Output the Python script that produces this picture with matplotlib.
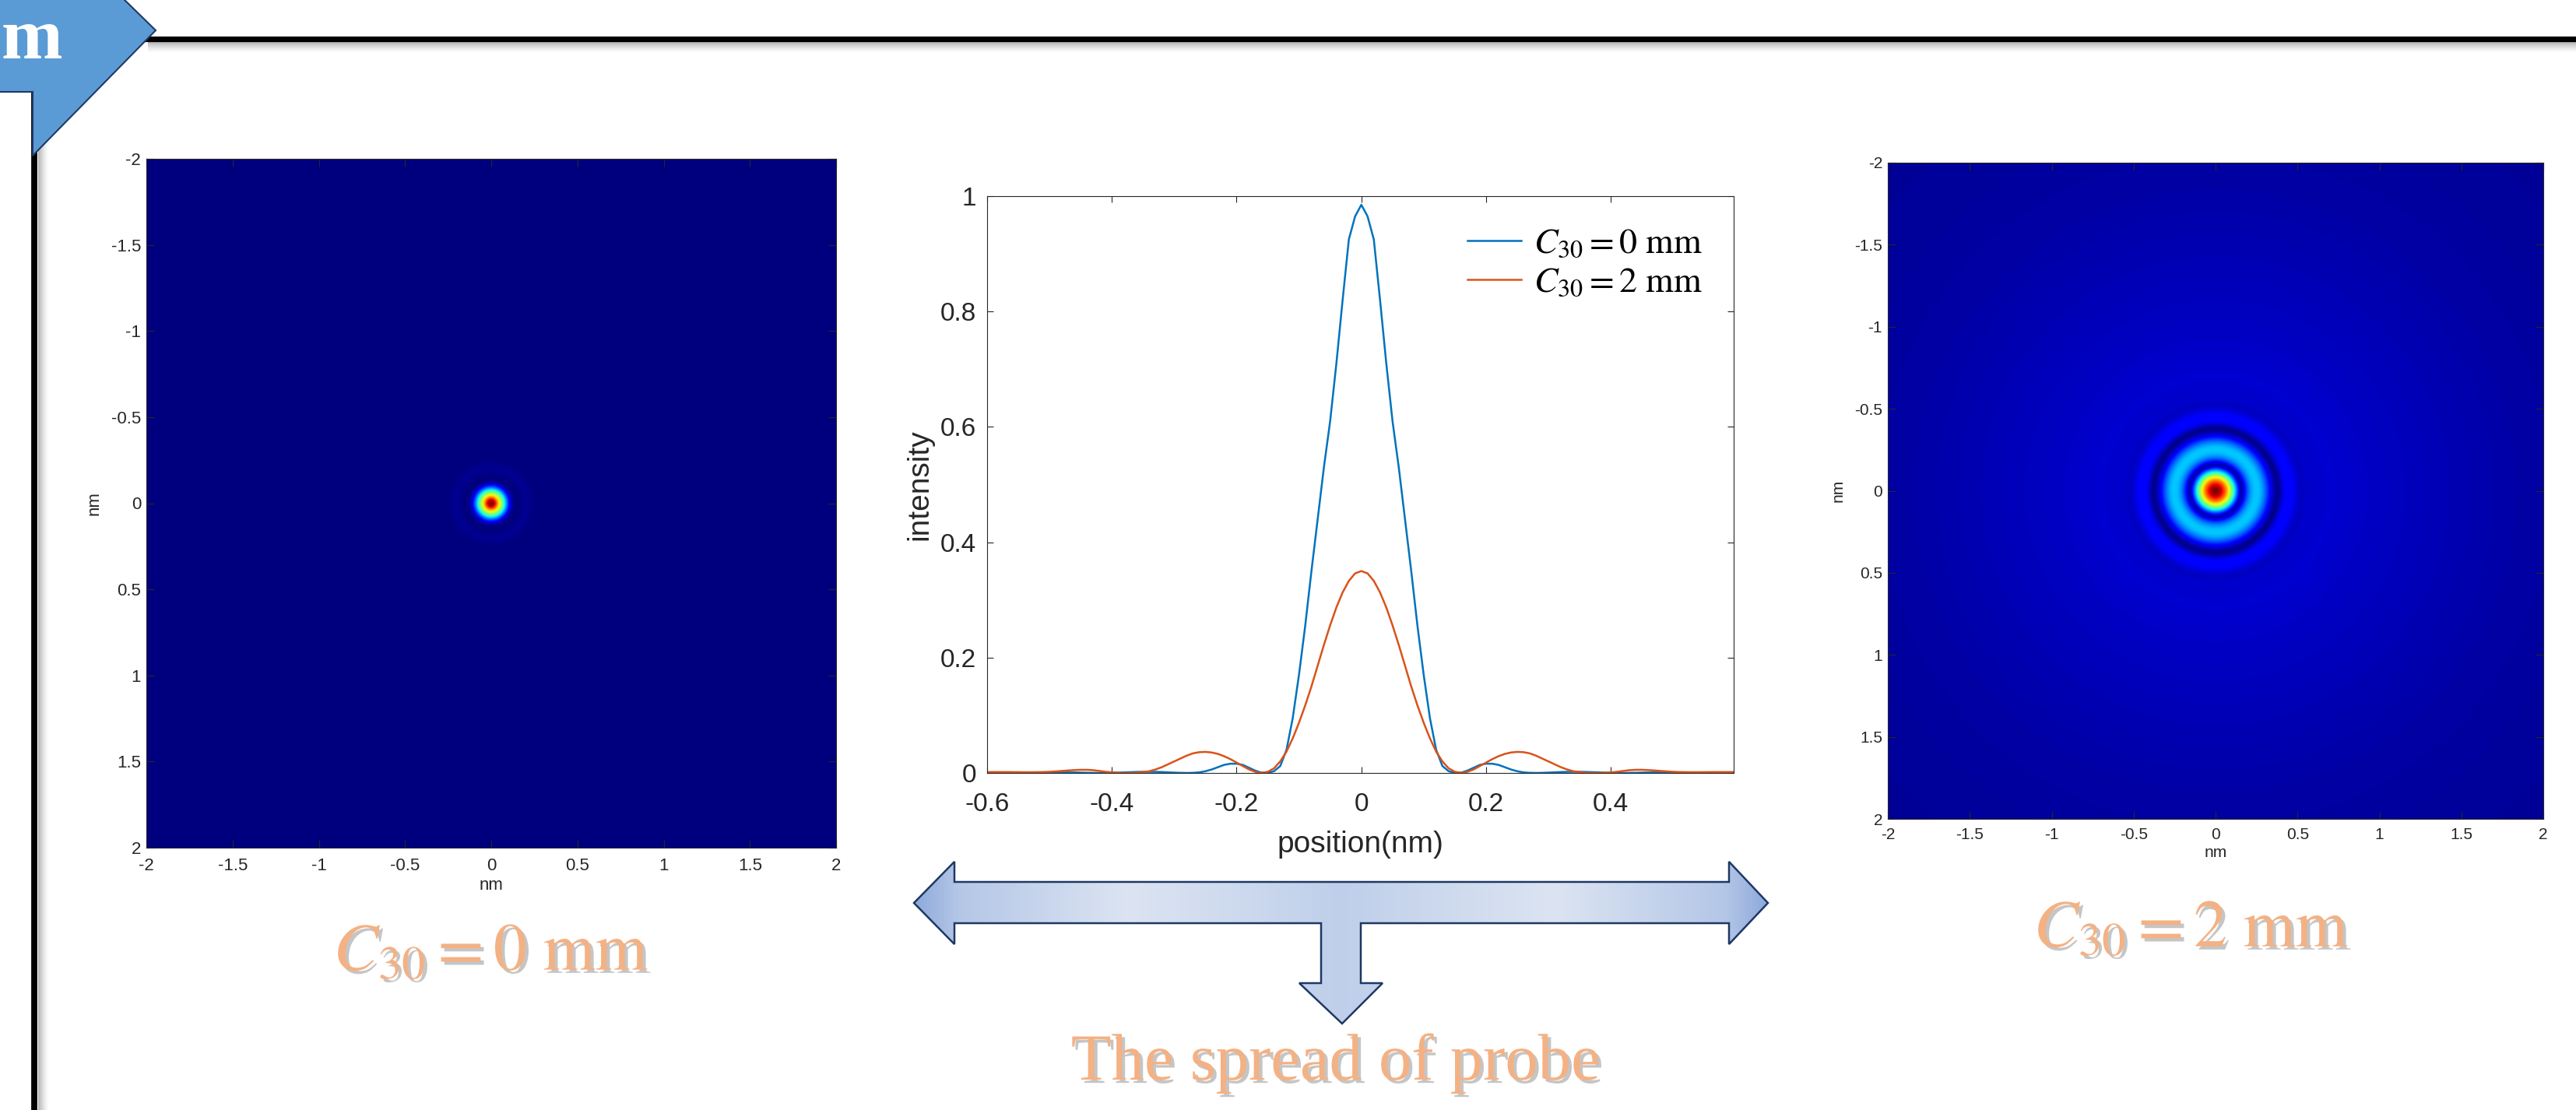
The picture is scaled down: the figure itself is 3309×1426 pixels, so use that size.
import numpy as np
import matplotlib
matplotlib.use('Agg')
import matplotlib.pyplot as plt
from matplotlib.patches import Polygon
from matplotlib.colors import LinearSegmentedColormap
from matplotlib.lines import Line2D
import matplotlib.patheffects as pe

plt.rcParams['font.family'] = ['Liberation Sans', 'DejaVu Sans']
plt.rcParams['mathtext.fontset'] = 'stix'

# ---------------- data ----------------
radius_nm = np.round(np.arange(0, 0.601, 0.01), 2)   # radial positions of the line profile
intensity_c30_0mm = [0.985, 0.965, 0.925, 0.82, 0.71, 0.61, 0.53, 0.44, 0.35, 0.255,
                     0.17, 0.095, 0.04, 0.012, 0.003, 0.0003, 0.0005, 0.004, 0.009, 0.014,
                     0.016, 0.016, 0.014, 0.010, 0.006, 0.003, 0.001, 0.0002, 0.0, 0.0002,
                     0.0006, 0.0011, 0.0016, 0.0019, 0.002, 0.002, 0.0018, 0.0014, 0.001, 0.0006,
                     0.0003, 0.0001, 0.0, 0.0001, 0.0003, 0.0006, 0.0008, 0.0009, 0.0008, 0.0006,
                     0.0003, 0.0001, 0.0, 0.0001, 0.0002, 0.0004, 0.0005, 0.0005, 0.0004, 0.0002, 0.0001]
intensity_c30_2mm = [0.350, 0.346, 0.333, 0.313, 0.287, 0.256, 0.222, 0.186, 0.150, 0.117,
                     0.087, 0.060, 0.037, 0.020, 0.008, 0.002, 0.0002, 0.002, 0.006, 0.012,
                     0.018, 0.024, 0.029, 0.033, 0.0355, 0.0365, 0.036, 0.034, 0.030, 0.025,
                     0.020, 0.015, 0.010, 0.006, 0.003, 0.0015, 0.0005, 0.0001, 0.0, 0.0003,
                     0.001, 0.002, 0.0035, 0.0048, 0.0055, 0.0055, 0.005, 0.0043, 0.0035, 0.0027,
                     0.002, 0.0016, 0.0014, 0.0013, 0.0013, 0.0014, 0.0015, 0.0016, 0.0016, 0.0016, 0.0015]
# faint halo of the probe maps beyond the plotted range
tail_radius_nm = [0.7, 0.9, 1.2, 1.5, 1.8, 2.2, 2.9]
tail_c30_0mm = [0.0, 0.0, 0.0, 0.0, 0.0, 0.0, 0.0]
tail_c30_2mm = [0.0018, 0.0014, 0.0010, 0.0007, 0.00045, 0.00028, 0.00014]

series_labels = [r'$C_{30} = 0\ \mathrm{mm}$', r'$C_{30} = 2\ \mathrm{mm}$']
position_ticks = [-0.6, -0.4, -0.2, 0, 0.2, 0.4]
position_tick_labels = ['-0.6', '-0.4', '-0.2', '0', '0.2', '0.4']
intensity_ticks = [0, 0.2, 0.4, 0.6, 0.8, 1]
intensity_tick_labels = ['0', '0.2', '0.4', '0.6', '0.8', '1']
map_ticks = [-2, -1.5, -1, -0.5, 0, 0.5, 1, 1.5, 2]
map_tick_labels = ['-2', '-1.5', '-1', '-0.5', '0', '0.5', '1', '1.5', '2']
caption_text = 'The spread of probe'
header_text = 'm'

# ---------------- layout ----------------
W, H = 3309, 1426
fig = plt.figure(figsize=(W / 100, H / 100), dpi=100)


def frac(x0, y0, x1, y1):
    return [x0 / W, 1 - y1 / H, (x1 - x0) / W, (y1 - y0) / H]


TXT = '#262626'
PEACH = '#F4B183'
line_colors = ['#0072BD', '#D95319']

# overlay in pixel coordinates for slide decorations
ax0 = fig.add_axes([0, 0, 1, 1])
ax0.axis('off')

# black frame lines with soft shadow
for k in range(14):
    a = 0.28 * (1 - k / 14) ** 1.5
    ax0.add_line(Line2D([190, W], [54 + k, 54 + k], color='k', alpha=a, lw=0.75))
    ax0.add_line(Line2D([49 + k, 49 + k], [118, H], color='k', alpha=a, lw=0.75))
ax0.add_line(Line2D([185, W], [50, 50], color='black', lw=5.2, solid_capstyle='butt'))
ax0.add_line(Line2D([44, 44], [118, H], color='black', lw=5.6, solid_capstyle='butt'))

# header pentagon
pent = Polygon([(-5, -5), (155, -5), (200, 39), (42, 200), (42, 118), (-5, 118)],
               closed=True, fc='#5B9BD5', ec='#1F3864', lw=1.5, zorder=5)
ax0.add_patch(pent)
ax0.text(2, 75, header_text, ha='left', va='baseline', color='white', fontsize=68,
         fontweight='bold', family=['Liberation Serif', 'DejaVu Serif'], zorder=6)

# gradient double arrow with downward stem
arrow_verts = [(1174, 1160), (1226, 1107), (1226, 1133), (2221, 1133), (2221, 1107),
               (2271, 1160), (2221, 1213), (2221, 1186), (1748, 1186), (1748, 1263),
               (1776, 1263), (1724, 1315), (1669, 1263), (1697, 1263), (1697, 1186),
               (1226, 1186), (1226, 1213)]
arrow = Polygon(arrow_verts, closed=True, fc='none', ec='#1F3864', lw=1.8, zorder=4)
ax0.add_patch(arrow)
stops = [0.0, 0.05, 0.25, 0.5, 0.75, 0.95, 1.0]
stop_colors = ['#8EA9DB', '#B4C7E7', '#DCE4F2', '#BFCFEA', '#DCE4F2', '#B4C7E7', '#8EA9DB']
cmap_arrow = LinearSegmentedColormap.from_list('arrowgrad', list(zip(stops, stop_colors)))
grad = np.linspace(0, 1, 512).reshape(1, -1)
im = ax0.imshow(grad, cmap=cmap_arrow, extent=[1174, 2271, 1315, 1107], aspect='auto',
                interpolation='bilinear', zorder=3)
im.set_clip_path(arrow)

shadow = [pe.SimplePatchShadow(offset=(3, -3), shadow_rgbFace='#808080', alpha=0.45), pe.Normal()]
ax0.text(631, 1246, series_labels[0], ha='center', va='baseline', color=PEACH, fontsize=62,
         path_effects=shadow)
ax0.text(2815, 1216, series_labels[1], ha='center', va='baseline', color=PEACH, fontsize=62,
         path_effects=shadow)
ax0.text(1716, 1387, caption_text, ha='center', va='baseline', color=PEACH, fontsize=61,
         family=['Liberation Serif', 'DejaVu Serif'], path_effects=shadow)
ax0.set_xlim(0, W)
ax0.set_ylim(H, 0)

# ---------------- probe maps ----------------
def probe_map(profile, tail, gamma):
    r = np.concatenate([radius_nm, tail_radius_nm])
    i = np.concatenate([profile, tail])
    grid = np.linspace(-2, 2, 601)
    X, Y = np.meshgrid(grid, grid)
    img = np.interp(np.hypot(X, Y), r, i)
    img = np.clip(img / img.max(), 0, 1) ** gamma
    return img


def style_map(ax, fs, pad):
    ax.set_xlim(-2, 2)
    ax.set_ylim(2, -2)
    ax.set_xticks(map_ticks)
    ax.set_xticklabels(map_tick_labels)
    ax.set_yticks(map_ticks)
    ax.set_yticklabels(map_tick_labels)
    ax.tick_params(direction='in', top=True, right=True, length=7, width=0.8, colors=TXT,
                   labelsize=fs, pad=pad)
    ax.tick_params(axis='y', pad=5)
    for s in ax.spines.values():
        s.set_color(TXT)
        s.set_linewidth(0.8)
    ax.set_xlabel('nm', fontsize=fs, color=TXT, labelpad=3)
    ax.set_ylabel('nm', fontsize=fs, color=TXT, labelpad=8)


axL = fig.add_axes(frac(188, 204, 1074, 1089))
axL.imshow(probe_map(intensity_c30_0mm, tail_c30_0mm, 1.0), cmap='jet', vmin=0, vmax=1,
           extent=[-2, 2, 2, -2], aspect='auto', interpolation='bilinear')
style_map(axL, 16, 9)

axR = fig.add_axes(frac(2425, 209, 3267, 1052))
axR.imshow(probe_map(intensity_c30_2mm, tail_c30_2mm, 0.5), cmap='jet', vmin=0, vmax=1,
           extent=[-2, 2, 2, -2], aspect='auto', interpolation='bilinear')
style_map(axR, 15, 8)

# ---------------- line profiles ----------------
axC = fig.add_axes(frac(1268, 252, 2227, 993))
x_full = np.concatenate([-radius_nm[::-1], radius_nm[1:]])
for prof, lab, col in zip([intensity_c30_0mm, intensity_c30_2mm], series_labels, line_colors):
    p = np.asarray(prof)
    y_full = np.concatenate([p[::-1], p[1:]])
    axC.plot(x_full, y_full, color=col, lw=1.8, label=lab)
axC.set_xlim(-0.6, 0.597)
axC.set_ylim(0, 1)
axC.set_xticks(position_ticks)
axC.set_xticklabels(position_tick_labels)
axC.set_yticks(intensity_ticks)
axC.set_yticklabels(intensity_tick_labels)
axC.tick_params(direction='in', top=True, right=True, length=6, width=0.8, colors=TXT, labelsize=24)
axC.tick_params(axis='x', pad=18)
axC.tick_params(axis='y', pad=10)
for s in axC.spines.values():
    s.set_color(TXT)
    s.set_linewidth(0.8)
axC.set_xlabel('position(nm)', fontsize=28, color=TXT, labelpad=13)
axC.set_ylabel('intensity', fontsize=28, color=TXT, labelpad=6)
axC.legend(loc='center left', bbox_to_anchor=(0.6434, 0.884), frameon=False, fontsize=33,
           handlelength=1.5, handletextpad=0.35, borderpad=0, borderaxespad=0, labelspacing=0.12)

fig.savefig('out.png', dpi=100)
